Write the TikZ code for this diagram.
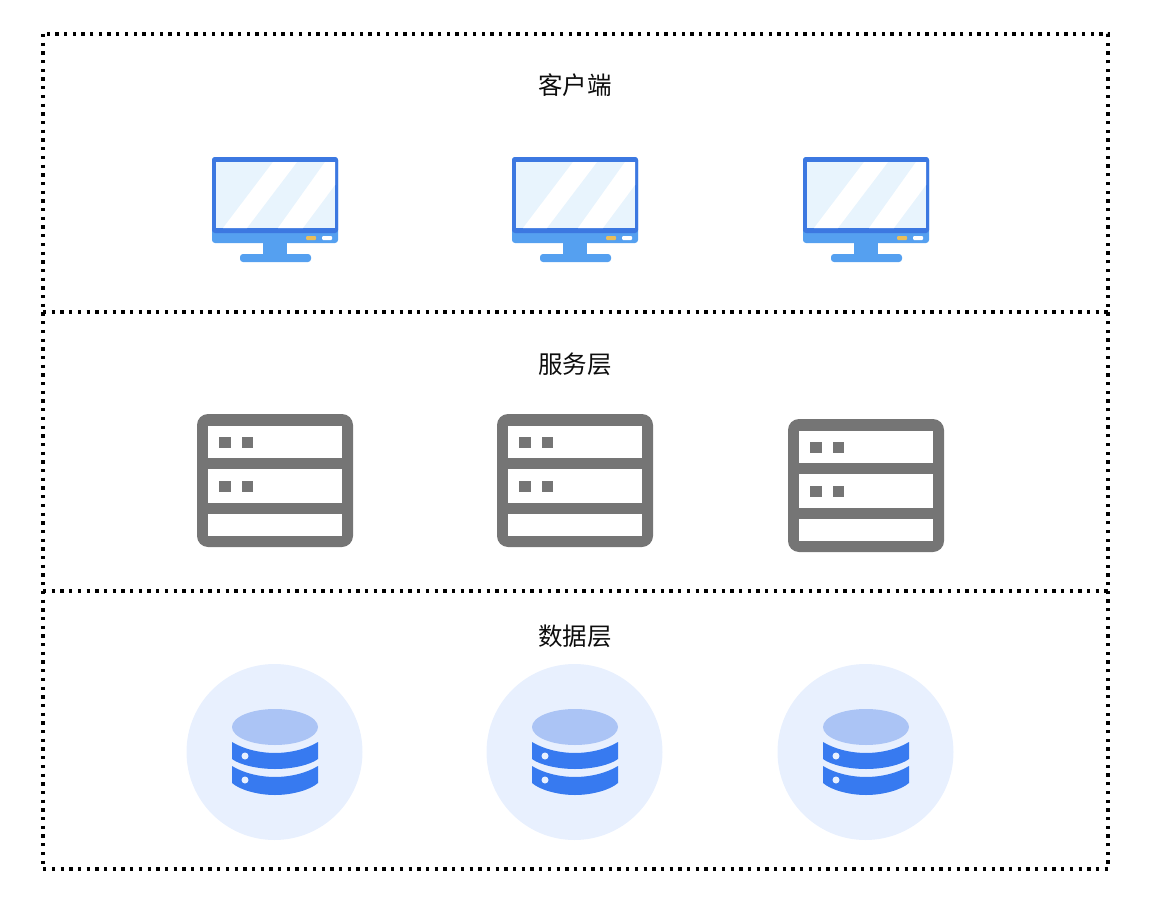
\documentclass[tikz,border=0pt]{standalone}
\usepackage{fontspec}
\usepackage{xcolor}
\usetikzlibrary{positioning}
\newfontfamily\cjk{Noto Sans CJK SC}
\definecolor{framedark}{RGB}{60, 120, 225}
\definecolor{framelight}{RGB}{85, 160, 240}
\definecolor{screenblue}{RGB}{232, 244, 253}
\definecolor{lampyellow}{RGB}{235, 190, 90}
\definecolor{servergray}{RGB}{117, 117, 117}
\definecolor{diskhalo}{RGB}{232, 240, 254}
\definecolor{disktop}{RGB}{171, 196, 245}
\definecolor{diskblue}{RGB}{55, 122, 240}
\tikzset{
    layerbox/.style={black, line width=3.3pt, dash pattern=on 3.3pt off 5.4pt},
    layertitle/.style={font=\cjk\fontsize{24.5}{28}\selectfont, text=black!95},
}
% one icon of each kind, drawn at the coordinates of the left column
\newcommand{\monitoricon}[1]{
    \begin{scope}[shift={#1}]
        \fill[framelight, rounded corners=3pt] (212,157) rectangle (338,243);
        \fill[framedark, rounded corners=3pt] (212,157) -- (338,157) -- (338,233) -- (212,233) -- cycle;
        \fill[screenblue] (216,162) rectangle (335,228);
        \fill[white] (223,228) -- (273,162) -- (297,162) -- (247,228) -- cycle;
        \fill[white] (278,228) -- (325,162) -- (335,162) -- (335,185) -- (303,228) -- cycle;
        \fill[lampyellow, rounded corners=1pt] (306,236) rectangle (316,240);
        \fill[white, rounded corners=1pt] (322,236) rectangle (332,240);
        \fill[framelight] (263,243) rectangle (287,254);
        \fill[framelight, rounded corners=3pt] (240,254) rectangle (311,262);
    \end{scope}
}
\newcommand{\servericon}[1]{
    \begin{scope}[shift={#1}]
        \fill[servergray, rounded corners=11pt] (197,414) rectangle (353,547);
        \fill[white] (208,426) rectangle (342,458);
        \fill[white] (208,469) rectangle (342,503);
        \fill[white] (208,514) rectangle (342,536);
        \fill[servergray] (219,437) rectangle (231,448);
        \fill[servergray] (242,437) rectangle (253,448);
        \fill[servergray] (219,481) rectangle (231,492);
        \fill[servergray] (242,481) rectangle (253,492);
    \end{scope}
}
\newcommand{\diskicon}[1]{
    \begin{scope}[shift={#1}]
        \fill[diskhalo] (274.5,752) circle (88);
        \fill[disktop] (275,727) ellipse (43 and 18);
        % upper and lower platter
        \fill[diskblue] (232,742) .. controls (245,750) and (262,753) .. (275,753) .. controls (288,753) and (305,750) .. (318,742)
            -- (318,759) .. controls (310,765) and (292,769) .. (275,769) .. controls (258,769) and (240,765) .. (232,759) -- cycle;
        \fill[diskblue] (232,766) .. controls (245,774) and (262,777) .. (275,777) .. controls (288,777) and (305,774) .. (318,766)
            -- (318,783) .. controls (310,790) and (292,795) .. (275,795) .. controls (258,795) and (240,790) .. (232,783) -- cycle;
        \fill[diskhalo] (245,756) circle (3.5);
        \fill[diskhalo] (245,780) circle (3.5);
    \end{scope}
}
\begin{document}
\begin{tikzpicture}[x=1pt, y=-1pt]
    \useasboundingbox (0,0) rectangle (1152,907);

    % Outer frame and the two layer borders
    \draw[layerbox] (43,34) rectangle (1108,869);
    \draw[layerbox] (43,312) -- (1108,312);
    \draw[layerbox] (43,591) -- (1108,591);

    % Client layer
    \node[layertitle] (clienttitle) at (575,85) {客户端};
    \monitoricon{(0,0)}
    \monitoricon{(300,0)}
    \monitoricon{(591,0)}

    % Service layer
    \node[layertitle] (servicetitle) at (575,364) {服务层};
    \servericon{(0,0)}
    \servericon{(300,0)}
    \servericon{(591,5)}

    % Data layer
    \node[layertitle] (datatitle) at (575,636) {数据层};
    \diskicon{(0,0)}
    \diskicon{(300,0)}
    \diskicon{(591,0)}
\end{tikzpicture}
\end{document}
